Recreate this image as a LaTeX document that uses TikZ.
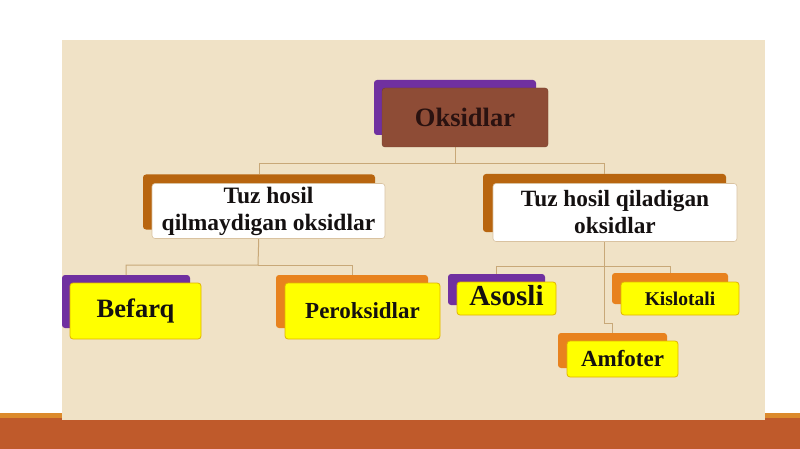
\documentclass[tikz,border=0pt]{standalone}
\usepackage{fontspec}
\setmainfont{Liberation Serif}
\definecolor{parch}{HTML}{F0E2C6}
\definecolor{band}{HTML}{BF5A2B}
\definecolor{bandline}{HTML}{DC8A2C}
\definecolor{purp}{HTML}{7030A0}
\definecolor{orng}{HTML}{E8821E}
\definecolor{brn}{HTML}{B8650F}
\definecolor{oksf}{HTML}{8E4C36}
\definecolor{okst}{HTML}{2A1210}
\definecolor{yel}{HTML}{FFFF00}
\definecolor{yelb}{HTML}{E2B400}
\definecolor{lin}{HTML}{C8A878}
\definecolor{txt}{HTML}{141010}
\tikzset{
  boxbase/.style={rounded corners=3pt, inner sep=0pt, outer sep=0pt, align=center, font=\bfseries, text=txt},
  backP/.style={boxbase, fill=purp},
  backO/.style={boxbase, fill=orng},
  backB/.style={boxbase, fill=brn},
  frontY/.style={boxbase, fill=yel, draw=yelb, line width=0.8pt},
  frontW/.style={boxbase, fill=white, draw=lin!70, line width=0.6pt},
  frontK/.style={boxbase, fill=oksf, draw=oksf!80!black, line width=0.4pt, text=okst},
  conn/.style={draw=lin, line width=1pt},
}
\begin{document}
\begin{tikzpicture}[x=1pt,y=-1pt]
\useasboundingbox (0,0) rectangle (800,449);
\fill[white] (0,0) rectangle (800,449);
\fill[band] (0,414) rectangle (800,449);
\fill[bandline] (0,413) rectangle (800,418);
\fill[parch] (62,40) rectangle (765,420);
% back boxes
\node[backP, minimum width=162pt, minimum height=55pt] (oksB) at (455,107.5) {};
\node[backB, minimum width=232pt, minimum height=55pt] (tqB) at (259,202) {};
\node[backB, minimum width=243pt, minimum height=58pt] (tyB) at (604.5,203) {};
\node[backP, minimum width=128pt, minimum height=53pt] (befB) at (126,301.5) {};
\node[backO, minimum width=152pt, minimum height=53pt] (perB) at (352,301.5) {};
\node[backP, minimum width=97pt, minimum height=31pt] (asoB) at (496.5,289.5) {};
\node[backO, minimum width=116pt, minimum height=31pt] (kisB) at (670,288.5) {};
\node[backO, minimum width=109pt, minimum height=35pt] (amfB) at (612.5,350.5) {};
% connectors
\coordinate (j1) at (455,164);
\coordinate (j2) at (258,265);
\coordinate (j3) at (604.5,266);
\coordinate (j4) at (604.5,323);
\draw[conn] (oksB.south) -- (j1) -| (tqB.north);
\draw[conn] (j1) -| (tyB.north);
\draw[conn] (tqB.south) -- (j2) -| (befB.north);
\draw[conn] (j2) -| (perB.north);
\draw[conn] (tyB.south) -- (j3) -| (asoB.north);
\draw[conn] (j3) -| (kisB.north);
\draw[conn] (j3) -- (j4) -| (amfB.north);
% front boxes
\node[frontK, minimum width=166pt, minimum height=59pt, font=\bfseries\fontsize{26.5}{29}\selectfont] (oks) at (465,117.5) {Oksidlar};
\node[frontW, minimum width=233pt, minimum height=55pt, font=\bfseries\fontsize{23.5}{27}\selectfont] (tq) at (268.5,211) {Tuz hosil\\qilmaydigan oksidlar};
\node[frontW, minimum width=244pt, minimum height=58pt, font=\bfseries\fontsize{23.3}{27}\selectfont] (ty) at (615,212.5) {Tuz hosil qiladigan\\oksidlar};
\node[frontY, minimum width=131pt, minimum height=56pt, font=\bfseries\fontsize{26.5}{29}\selectfont] (bef) at (135.5,311) {Befarq};
\node[frontY, minimum width=155pt, minimum height=56pt, font=\bfseries\fontsize{23}{26}\selectfont] (per) at (362.5,311) {Peroksidlar};
\node[frontY, minimum width=99pt, minimum height=33pt, font=\bfseries\fontsize{29}{31}\selectfont] (aso) at (506.5,298.5) {\raisebox{7pt}{Asosli}};
\node[frontY, minimum width=118pt, minimum height=33pt, font=\bfseries\fontsize{19.5}{22}\selectfont] (kis) at (680,298.5) {Kislotali};
\node[frontY, minimum width=111pt, minimum height=36pt, font=\bfseries\fontsize{23}{26}\selectfont] (amf) at (622.5,359) {Amfoter};
\end{tikzpicture}
\end{document}
